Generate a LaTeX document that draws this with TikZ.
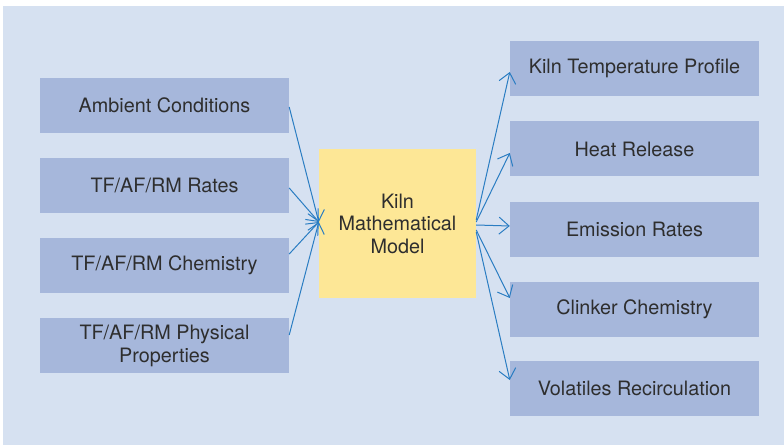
\documentclass[tikz,border=0pt]{standalone}
\usepackage{fontspec}
\setmainfont{TeX Gyre Heros}
\usetikzlibrary{arrows.meta}
\definecolor{bgcol}{HTML}{D6E1F1}
\definecolor{boxcol}{HTML}{A6B7DB}
\definecolor{centcol}{HTML}{FDE796}
\definecolor{arrcol}{HTML}{2A7DC2}
\definecolor{txtcol}{HTML}{2E2E2E}
\tikzset{
  inbox/.style={fill=boxcol, draw=none, minimum width=249pt, minimum height=55pt, inner sep=0pt,
    align=center, text=txtcol, font=\fontsize{19.8}{23}\selectfont},
  corebox/.style={fill=centcol, draw=none, minimum width=157pt, minimum height=149pt, inner sep=0pt,
    align=center, text=txtcol, font=\fontsize{19.8}{22.5}\selectfont},
  flow/.style={draw=arrcol, line width=1pt, -{Straight Barb[length=10pt,width=17pt,line width=1pt]}}
}
\begin{document}
\begin{tikzpicture}[x=1pt,y=-1pt]
\useasboundingbox (0,0) rectangle (784,446);
\fill[white] (0,0) rectangle (784,446);
\fill[bgcol] (3,6) rectangle (784,445);
% left inputs
\node[inbox] (l1) at (164.5,105.5) {Ambient Conditions};
\node[inbox] (l2) at (164.5,185.5) {TF/AF/RM Rates};
\node[inbox] (l3) at (164.5,265.5) {TF/AF/RM Chemistry};
\node[inbox] (l4) at (164.5,345.5) {TF/AF/RM Physical\\Properties};
% center
\node[corebox] (c) at (397.5,223.5) {Kiln\\Mathematical\\Model};
% right outputs
\node[inbox] (r1) at (634.5,68.5) {Kiln Temperature Profile};
\node[inbox] (r2) at (634.5,149) {Heat Release};
\node[inbox] (r3) at (634.5,229.5) {Emission Rates};
\node[inbox] (r4) at (634.5,309.5) {Clinker Chemistry};
\node[inbox] (r5) at (634.5,388) {Volatiles Recirculation};
% input arrows
\draw[flow] ([yshift=-1.5pt]l1.east) -- ([yshift=1.5pt]c.west);
\draw[flow] ([yshift=-2.5pt]l2.east) -- ([yshift=1.5pt]c.west);
\draw[flow] ([yshift=11.5pt]l3.east) -- ([yshift=1.5pt]c.west);
\draw[flow] ([yshift=10.5pt]l4.east) -- ([yshift=1.5pt]c.west);
% output arrows
\draw[flow] ([yshift=3.5pt]c.east) -- ([yshift=-3.5pt]r1.west);
\draw[flow] ([yshift=1.5pt]c.east) -- ([yshift=-4pt]r2.west);
\draw[flow] ([yshift=-1.5pt]c.east) -- ([yshift=3.5pt]r3.west);
\draw[flow] ([yshift=-6.5pt]c.east) -- ([yshift=11.5pt]r4.west);
\draw[flow] ([yshift=-8.5pt]c.east) -- ([yshift=8pt]r5.west);
\end{tikzpicture}
\end{document}
